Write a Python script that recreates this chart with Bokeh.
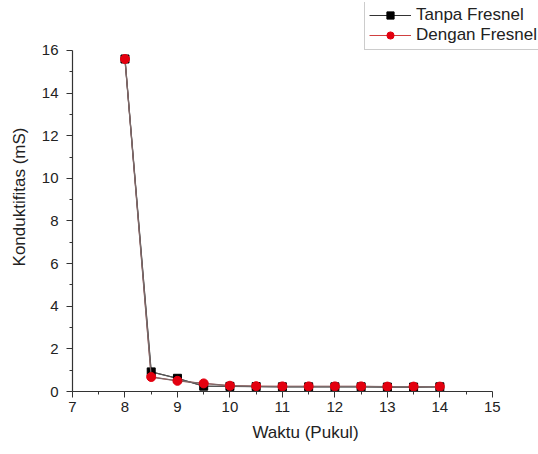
from bokeh.plotting import figure
from bokeh.models import Legend, LegendItem, Range1d, FixedTicker
from bokeh.embed import file_html
from bokeh.resources import INLINE

waktu = [8, 8.5, 9, 9.5, 10, 10.5, 11, 11.5, 12, 12.5, 13, 13.5, 14]
tanpa_fresnel = [15.6, 0.92, 0.62, 0.25, 0.24, 0.23, 0.22, 0.22, 0.22, 0.22, 0.21, 0.21, 0.22]
dengan_fresnel = [15.6, 0.68, 0.5, 0.38, 0.27, 0.25, 0.24, 0.24, 0.24, 0.24, 0.23, 0.23, 0.23]
x_ticks = [7, 8, 9, 10, 11, 12, 13, 14, 15]
y_ticks = [0, 2, 4, 6, 8, 10, 12, 14, 16]

FONT = "Liberation Sans"

p = figure(width=538, height=454, output_backend="svg", toolbar_location=None,
           x_range=Range1d(7, 15.88), y_range=Range1d(0, 18.25),
           min_border_left=72, min_border_right=0, min_border_top=2, min_border_bottom=63)
p.outline_line_color = None
p.xgrid.visible = False
p.ygrid.visible = False
p.background_fill_color = "white"
p.border_fill_color = "white"

for ax in (p.xaxis[0], p.yaxis[0]):
    ax.axis_line_color = "#333333"
    ax.axis_line_width = 1.2
    ax.major_tick_line_color = "#333333"
    ax.minor_tick_line_color = "#333333"
    ax.major_tick_in = 0
    ax.major_tick_out = 6
    ax.minor_tick_in = 0
    ax.minor_tick_out = 3
    ax.major_label_text_font = FONT
    ax.major_label_text_font_size = "15px"
    ax.major_label_text_color = "#222222"
    ax.axis_label_text_font = FONT
    ax.axis_label_text_font_size = "17px"
    ax.axis_label_text_font_style = "normal"
    ax.axis_label_text_color = "#222222"

p.xaxis.bounds = (7, 15)
p.yaxis.bounds = (0, 16)
p.xaxis.ticker = FixedTicker(ticks=x_ticks, minor_ticks=[x + 0.5 for x in x_ticks[:-1]])
p.yaxis.ticker = FixedTicker(ticks=y_ticks, minor_ticks=[y + 1 for y in y_ticks[:-1]])
p.xaxis.axis_label = "Waktu (Pukul)"
p.yaxis.axis_label = "Konduktifitas (mS)"
p.xaxis.major_label_standoff = 4
p.xaxis.axis_label_standoff = 8
p.yaxis.major_label_standoff = 8
p.yaxis.axis_label_standoff = 10

# legend glyph renderers (drawn first, hidden beneath the main marks)
lg1 = p.line(waktu, tanpa_fresnel, line_color="#333333", line_width=1)
lm1 = p.scatter(waktu, tanpa_fresnel, marker="square", size=6, fill_color="black", line_color="black")
lg2 = p.line(waktu, dengan_fresnel, line_color="#d04040", line_width=1)
lm2 = p.scatter(waktu, dengan_fresnel, marker="circle", size=7, fill_color="#e3000f", line_color="#e3000f")

# main marks
p.line(waktu, tanpa_fresnel, line_color="#555555", line_width=1.3)
p.scatter(waktu, tanpa_fresnel, marker="square", size=8, fill_color="black", line_color="black")
p.line(waktu, dengan_fresnel, line_color="#7d6a6a", line_width=1.3)
p.scatter(waktu, dengan_fresnel, marker="circle", size=9, fill_color="#e3000f", line_color="#e3000f")

legend = Legend(items=[LegendItem(label="Tanpa Fresnel", renderers=[lg1, lm1]),
                       LegendItem(label="Dengan Fresnel", renderers=[lg2, lm2])],
                location=(292, 341))
legend.label_text_font = FONT
legend.label_text_font_size = "17px"
legend.label_text_color = "#222222"
legend.border_line_color = "#999999"
legend.border_line_width = 1
legend.padding = 4
legend.spacing = 0
legend.margin = 0
legend.glyph_width = 42
legend.glyph_height = 18
legend.label_standoff = 5
legend.label_height = 18
p.add_layout(legend, "center")

open("out.html", "w").write(file_html(p, INLINE))
